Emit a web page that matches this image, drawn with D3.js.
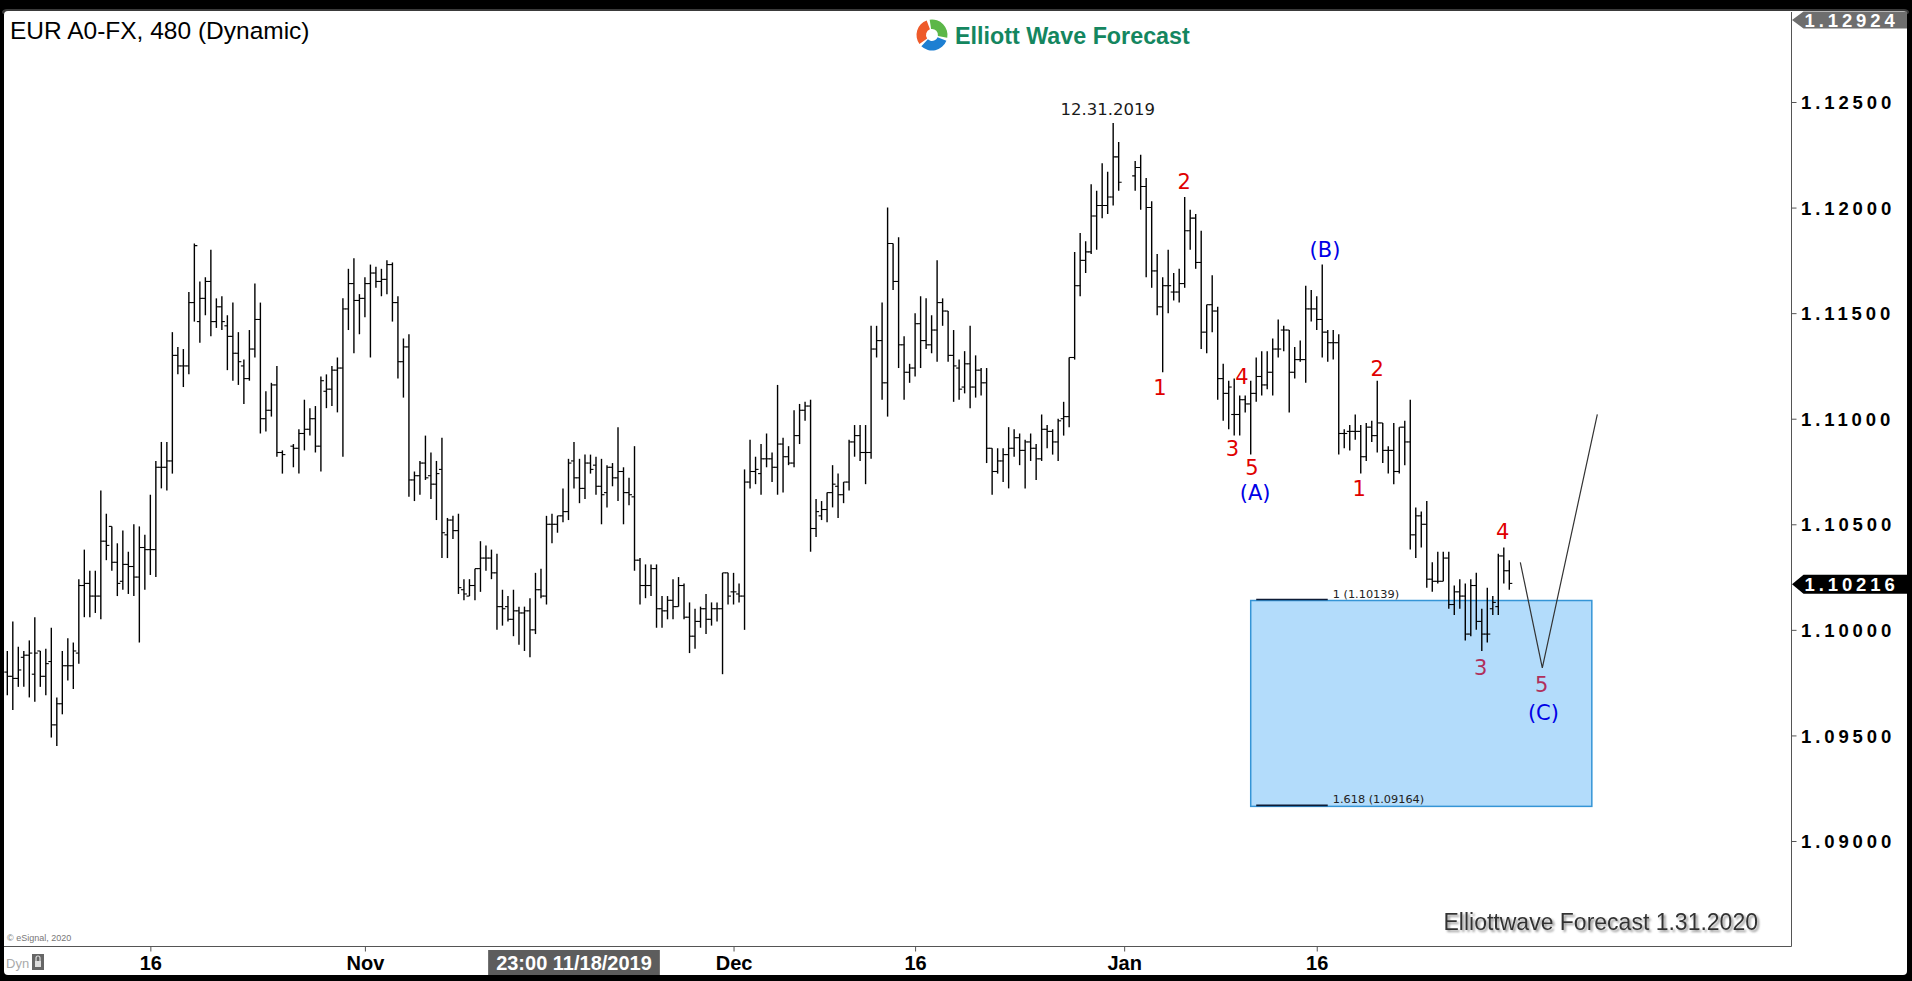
<!DOCTYPE html>
<html><head><meta charset="utf-8">
<script src="https://cdn.jsdelivr.net/npm/d3@7"></script>
<style>
html,body{margin:0;padding:0;background:#000;overflow:hidden}
svg{display:block}
</style></head><body>
<svg id="chart" width="1912" height="981"></svg>
<script>
// ---- data: 8-hour (480 min) EUR/USD bars, one entry per bar slot (null = empty slot) ----
const opens=[
1.0980,1.0978,1.0977,1.0987,1.0988,1.0979,1.0990,1.0978,1.0985,1.0955,
1.0965,1.0983,1.0983,1.0989,1.1021,1.1022,1.1016,1.1016,1.1042,1.1049,
1.1032,1.1023,1.1031,1.1030,1.1025,1.1039,1.1038,1.1038,1.1077,1.1077,
1.1080,1.1130,1.1125,1.1125,1.1155,1.1146,1.1157,1.1165,1.1146,1.1153,
1.1144,1.1139,1.1131,1.1125,1.1119,1.1133,1.1147,1.1100,1.1104,1.1116,
1.1084,null,1.1087,1.1086,1.1093,1.1095,1.1100,1.1087,1.1113,1.1114,
1.1123,1.1124,1.1152,1.1164,1.1156,1.1157,1.1164,1.1169,1.1165,1.1166,
1.1173,1.1155,1.1127,1.1134,1.1071,1.1073,1.1079,1.1073,1.1069,1.1076,
1.1045,1.1052,1.1047,1.1019,1.1016,1.1021,1.1029,1.1034,1.1034,1.1027,
1.1011,1.1011,1.1005,1.1009,1.1008,1.1009,1.1000,1.1019,1.1016,1.1050,
1.1050,1.1054,1.1056,1.1080,1.1072,1.1067,1.1079,1.1078,1.1068,1.1065,
1.1077,1.1072,1.1075,1.1065,1.1063,1.1033,1.1021,1.1021,1.1029,1.1010,
1.1009,1.1014,1.1011,1.1021,1.1006,1.0997,1.1004,1.1010,1.1005,1.1010,
1.1010,1.1027,1.1018,1.1017,1.1016,1.1070,1.1075,1.1074,1.1081,1.1081,
1.1077,1.1088,1.1082,1.1079,1.1092,1.1104,1.1106,1.1048,1.1054,1.1057,
1.1065,1.1068,1.1064,1.1070,1.1089,1.1092,1.1084,1.1084,1.1133,1.1137,
1.1117,1.1183,1.1165,1.1135,1.1122,1.1124,1.1145,1.1137,1.1135,1.1142,
1.1155,1.1151,1.1130,1.1124,1.1115,1.1126,1.1115,1.1123,1.1117,1.1086,
1.1075,1.1080,1.1083,1.1086,1.1091,1.1085,1.1089,1.1086,1.1081,1.1095,
1.1094,1.1089,1.1100,1.1101,1.1129,1.1163,1.1175,1.1179,1.1196,1.1201,
1.1201,1.1205,1.1224,null,null,1.1215,1.1219,1.1210,1.1200,1.1170,
1.1153,1.1163,1.1160,1.1160,1.1164,1.1189,1.1195,1.1174,1.1141,1.1154,
1.1151,1.1119,1.1112,1.1102,1.1102,1.1109,1.1107,1.1112,1.1120,1.1116,
1.1122,1.1133,1.1142,1.1142,1.1122,1.1128,1.1128,1.1152,1.1152,1.1147,
1.1141,1.1136,1.1136,1.1093,1.1094,1.1094,1.1094,1.1082,1.1096,1.1092,
1.1098,1.1085,1.1085,1.1075,1.1096,1.1089,1.1045,1.1054,1.1050,1.1024,
1.1023,1.1023,1.1034,1.1012,1.1018,1.1016,1.0998,1.1021,1.1004,1.0998,
1.1010,1.1011,1.1035,1.1028];
const highs=[
1.0990,1.1004,1.0992,1.0990,1.0995,1.1006,1.0990,1.0991,1.1001,1.0968,
1.0990,1.0996,1.0994,1.1024,1.1038,1.1028,1.1028,1.1066,1.1055,1.1049,
1.1041,1.1047,1.1037,1.1050,1.1049,1.1045,1.1064,1.1080,1.1089,1.1089,
1.1141,1.1134,1.1133,1.1160,1.1183,1.1165,1.1167,1.1180,1.1157,1.1158,
1.1149,1.1155,1.1141,1.1128,1.1142,1.1164,1.1155,1.1113,1.1117,1.1125,
1.1085,null,1.1088,1.1095,1.1109,1.1105,1.1106,1.1120,1.1121,1.1125,
1.1129,1.1157,1.1171,1.1176,1.1159,1.1167,1.1173,1.1172,1.1171,1.1175,
1.1174,1.1158,1.1138,1.1140,1.1075,1.1080,1.1092,1.1084,1.1080,1.1091,
1.1053,1.1054,1.1055,1.1024,1.1024,1.1029,1.1042,1.1040,1.1038,1.1036,
1.1019,1.1016,1.1019,1.1011,1.1011,1.1015,1.1027,1.1029,1.1054,1.1055,
1.1054,1.1067,1.1081,1.1089,1.1081,1.1083,1.1083,1.1082,1.1081,1.1078,
1.1079,1.1096,1.1077,1.1072,1.1087,1.1034,1.1031,1.1031,1.1031,1.1016,
1.1016,1.1024,1.1025,1.1022,1.1013,1.1010,1.1011,1.1017,1.1013,1.1013,
1.1027,1.1027,1.1027,1.1022,1.1076,1.1090,1.1082,1.1088,1.1093,1.1084,
1.1116,1.1091,1.1087,1.1104,1.1107,1.1108,1.1109,1.1062,1.1061,1.1065,
1.1078,1.1074,1.1070,1.1090,1.1097,1.1097,1.1097,1.1144,1.1144,1.1155,
1.1200,1.1183,1.1186,1.1139,1.1126,1.1150,1.1158,1.1157,1.1149,1.1175,
1.1157,1.1151,1.1142,1.1128,1.1132,1.1144,1.1130,1.1124,1.1124,1.1086,
1.1086,1.1086,1.1096,1.1095,1.1093,1.1090,1.1093,1.1088,1.1102,1.1097,
1.1095,1.1100,1.1108,1.1129,1.1179,1.1188,1.1184,1.1211,1.1208,1.1221,
1.1217,1.1240,1.1231,null,null,1.1222,1.1225,1.1214,1.1203,1.1178,
1.1167,1.1180,1.1169,1.1171,1.1205,1.1199,1.1197,1.1189,1.1154,1.1168,
1.1153,1.1126,1.1118,1.1119,1.1111,1.1111,1.1118,1.1129,1.1132,1.1132,
1.1138,1.1147,1.1144,1.1142,1.1134,1.1137,1.1163,1.1161,1.1158,1.1173,
1.1142,1.1142,1.1140,1.1095,1.1097,1.1102,1.1097,1.1098,1.1099,1.1118,
1.1098,1.1087,1.1098,1.1096,1.1099,1.1109,1.1058,1.1056,1.1061,1.1032,
1.1037,1.1037,1.1037,1.1021,1.1024,1.1022,1.1024,1.1027,1.1010,1.1020,
1.1016,1.1036,1.1039,1.1033];
const lows=[
1.0969,1.0962,1.0973,1.0973,1.0968,1.0966,1.0973,1.0969,1.0949,1.0945,
1.0960,1.0976,1.0972,1.0984,1.1006,1.1006,1.1008,1.1005,1.1033,1.1028,
1.1016,1.1019,1.1017,1.1016,1.0994,1.1019,1.1026,1.1025,1.1067,1.1066,
1.1074,1.1121,1.1115,1.1121,1.1146,1.1136,1.1149,1.1139,1.1143,1.1142,
1.1123,1.1118,1.1116,1.1107,1.1118,1.1129,1.1093,1.1094,1.1101,1.1082,
1.1074,null,1.1077,1.1074,1.1085,1.1092,1.1084,1.1075,1.1105,1.1106,
1.1103,1.1082,1.1142,1.1131,1.1140,1.1148,1.1129,1.1162,1.1158,1.1159,
1.1146,1.1119,1.1110,1.1063,1.1061,1.1064,1.1071,1.1062,1.1052,1.1034,
1.1034,1.1043,1.1017,1.1014,1.1016,1.1014,1.1018,1.1028,1.1024,1.1000,
1.1002,1.1004,1.0997,1.0993,1.0990,1.0987,1.0998,1.1015,1.1012,1.1041,
1.1046,1.1051,1.1052,1.1067,1.1060,1.1062,1.1074,1.1064,1.1050,1.1058,
1.1068,1.1061,1.1050,1.1059,1.1028,1.1012,1.1015,1.1016,1.1001,1.1001,
1.1005,1.1005,1.1011,1.1005,1.0989,1.0991,1.1001,1.0998,1.1002,1.1004,
1.0979,1.1012,1.1012,1.1013,1.1000,1.1067,1.1069,1.1064,1.1077,1.1070,
1.1064,1.1065,1.1078,1.1077,1.1088,1.1099,1.1037,1.1044,1.1052,1.1051,
1.1058,1.1053,1.1060,1.1066,1.1082,1.1080,1.1069,1.1081,1.1129,1.1109,
1.1101,1.1161,1.1124,1.1109,1.1117,1.1120,1.1124,1.1133,1.1131,1.1127,
1.1144,1.1127,1.1108,1.1109,1.1112,1.1105,1.1110,1.1111,1.1079,1.1064,
1.1074,1.1070,1.1067,1.1082,1.1078,1.1067,1.1080,1.1071,1.1080,1.1086,
1.1083,1.1080,1.1092,1.1096,1.1128,1.1158,1.1169,1.1178,1.1180,1.1195,
1.1197,1.1201,1.1208,null,null,1.1208,1.1199,1.1167,1.1162,1.1149,
1.1122,1.1150,1.1156,1.1155,1.1162,1.1180,1.1171,1.1133,1.1131,1.1141,
1.1109,1.1099,1.1095,1.1092,1.1092,1.1103,1.1083,1.1108,1.1111,1.1114,
1.1111,1.1129,1.1132,1.1103,1.1119,1.1127,1.1117,1.1146,1.1142,1.1129,
1.1127,1.1128,1.1083,1.1086,1.1085,1.1090,1.1074,1.1080,1.1089,1.1084,
1.1079,1.1074,1.1069,1.1074,1.1078,1.1038,1.1034,1.1039,1.1020,1.1018,
1.1022,1.1023,1.1010,1.1007,1.1010,1.0995,1.0997,1.1000,1.0990,1.0994,
1.1007,1.1007,1.1022,1.1019];
const closes=[
1.0978,1.0977,1.0981,1.0988,1.0989,1.0989,1.0978,1.0984,1.0955,1.0965,
1.0983,1.0983,1.0990,1.1021,1.1022,1.1016,1.1016,1.1042,1.1040,1.1032,
1.1022,1.1031,1.1030,1.1025,1.1039,1.1038,1.1038,1.1077,1.1077,1.1080,
1.1130,1.1125,1.1125,1.1155,1.1182,1.1157,1.1165,1.1146,1.1153,1.1146,
1.1139,1.1131,1.1127,1.1119,1.1133,1.1147,1.1100,1.1104,1.1116,1.1084,
1.1083,null,1.1086,1.1093,1.1095,1.1100,1.1087,1.1118,1.1114,1.1123,
1.1124,1.1152,1.1164,1.1156,1.1157,1.1164,1.1169,1.1165,1.1166,1.1173,
1.1155,1.1127,1.1134,1.1071,1.1073,1.1079,1.1072,1.1069,1.1074,1.1046,
1.1052,1.1047,1.1020,1.1017,1.1021,1.1029,1.1034,1.1034,1.1027,1.1011,
1.1010,1.1005,1.1009,1.1008,1.1009,1.1000,1.1019,1.1016,1.1050,1.1050,
1.1054,1.1056,1.1079,1.1072,1.1067,1.1079,1.1076,1.1068,1.1064,1.1077,
1.1072,1.1075,1.1065,1.1064,1.1033,1.1021,1.1021,1.1029,1.1010,1.1009,
1.1014,1.1011,1.1021,1.1006,1.0997,1.1004,1.1010,1.1005,1.1010,1.1010,
1.1027,1.1016,1.1018,1.1016,1.1070,1.1075,1.1076,1.1081,1.1081,1.1077,
1.1088,1.1082,1.1079,1.1092,1.1104,1.1106,1.1048,1.1056,1.1057,1.1065,
1.1069,1.1064,1.1070,1.1089,1.1092,1.1084,1.1084,1.1133,1.1137,1.1117,
1.1183,1.1165,1.1135,1.1122,1.1124,1.1145,1.1137,1.1135,1.1142,1.1155,
1.1151,1.1130,1.1125,1.1114,1.1126,1.1115,1.1123,1.1117,1.1086,1.1075,
1.1080,1.1083,1.1086,1.1091,1.1085,1.1089,1.1086,1.1081,1.1095,1.1094,
1.1089,1.1099,1.1101,1.1129,1.1163,1.1175,1.1179,1.1196,1.1201,1.1201,
1.1205,1.1224,1.1212,null,null,1.1219,1.1210,1.1200,1.1170,1.1153,
1.1163,1.1163,1.1160,1.1164,1.1189,1.1195,1.1174,1.1141,1.1154,1.1151,
1.1119,1.1112,1.1115,1.1102,1.1109,1.1107,1.1112,1.1120,1.1116,1.1122,
1.1133,1.1133,1.1142,1.1122,1.1128,1.1128,1.1152,1.1152,1.1147,1.1141,
1.1136,1.1136,1.1093,1.1093,1.1094,1.1094,1.1082,1.1096,1.1092,1.1098,
1.1085,1.1085,1.1075,1.1096,1.1089,1.1045,1.1054,1.1050,1.1024,1.1023,
1.1023,1.1034,1.1012,1.1018,1.1016,1.0998,1.1021,1.1004,1.0998,1.0998,
1.1013,1.1035,1.1028,1.1022];

const yTickValues=[1.090,1.095,1.100,1.105,1.110,1.115,1.120,1.125];
const xTickSlots=[26,65,132,165,203,238];
const xTickLabels=["16","Nov","Dec","16","Jan","16"];
const cursorSlot=103, cursorLabel="23:00 11/18/2019";
const topPrice=1.12924, lastPrice=1.10216;

const waveText  =["1","2","3","4","5","(A)","(B)","1","2","3","4","5","(C)"];
const waveSlot  =[209.5,213.9,222.7,224.4,226.2,226.8,239.5,245.7,249.0,267.8,271.8,278.9,279.2];
const wavePrice =[1.11146,1.12123,1.10856,1.11199,1.10767,1.10650,1.11799,1.10670,1.11239,1.09823,1.10465,1.09740,1.09610];
const waveDegree=["minor","minor","minor","minor","minor","inter","inter","minor","minor","sub","minor","sub","inter"];
const peakLabel="12.31.2019", peakSlot=200, peakPrice=1.12438;

const projSlots=[275,279,289];
const projPrices=[1.1032,1.0982,1.1102];
const zoneSlots=[226,288];
const fibRatios=["1","1.618"];
const fibPrices=[1.10139,1.09164];
const fibLineSlots=[227,240];

// ---- layout ----
const svg=d3.select("#chart");
const P={left:4,top:12,right:1791.5,bottom:946.5};
const x=d3.scaleLinear().domain([0,273]).range([7.3,1509.3]);
const y=d3.scaleLinear().domain([1.090,1.125]).range([841,102]);
const AXF="'Liberation Sans', Arial, sans-serif";
const WF="'DejaVu Sans', Verdana, sans-serif";

const defs=svg.append("defs");
defs.append("clipPath").attr("id","pc").append("rect")
  .attr("x",P.left).attr("y",P.top).attr("width",P.right-P.left).attr("height",P.bottom-P.top);
const f=defs.append("filter").attr("id","sh").attr("x","-5%").attr("y","-30%").attr("width","110%").attr("height","160%");
f.append("feDropShadow").attr("dx",2).attr("dy",2).attr("stdDeviation",1.2).attr("flood-color","#8a8a8a").attr("flood-opacity",0.9);

// frame
svg.append("rect").attr("width",1912).attr("height",981).attr("fill","#000");
svg.append("rect").attr("x",2).attr("y",9).attr("width",1907).attr("height",6).attr("rx",5).attr("fill","#3a3a3a");
svg.append("rect").attr("x",4).attr("y",11).attr("width",1903).attr("height",964).attr("rx",4).attr("fill","#fff");

// Fibonacci zone
const gz=svg.append("g").attr("clip-path","url(#pc)");
gz.append("rect")
  .attr("x",x(zoneSlots[0])).attr("y",y(fibPrices[0]))
  .attr("width",x(zoneSlots[1])-x(zoneSlots[0])).attr("height",y(fibPrices[1])-y(fibPrices[0]))
  .attr("fill","#b3dcfb").attr("stroke","#3595d6").attr("stroke-width",1.5);
fibPrices.forEach((p,i)=>{
  gz.append("line").attr("x1",x(fibLineSlots[0])).attr("x2",x(fibLineSlots[1]))
    .attr("y1",y(p)-1).attr("y2",y(p)-1).attr("stroke","#0d1b36").attr("stroke-width",1.6);
  gz.append("text").attr("x",x(fibLineSlots[1])+5).attr("y",y(p)-3)
    .attr("font-family",WF).attr("font-size",11.3).attr("fill","#222")
    .text(`${fibRatios[i]} (${p.toFixed(5)})`);
});

// OHLC bars
const gb=svg.append("g").attr("clip-path","url(#pc)").attr("stroke","#000");
const idx=d3.range(highs.length).filter(i=>highs[i]!=null);
gb.selectAll("line.hl").data(idx).join("line").attr("class","hl")
  .attr("x1",i=>x(i)).attr("x2",i=>x(i)).attr("y1",i=>y(highs[i])).attr("y2",i=>y(lows[i]))
  .attr("stroke-width",1.4);
gb.selectAll("line.op").data(idx).join("line").attr("class","op")
  .attr("x1",i=>x(i)-3).attr("x2",i=>x(i)).attr("y1",i=>y(opens[i])).attr("y2",i=>y(opens[i]))
  .attr("stroke-width",1.1);
gb.selectAll("line.cl").data(idx).join("line").attr("class","cl")
  .attr("x1",i=>x(i)).attr("x2",i=>x(i)+3).attr("y1",i=>y(closes[i])).attr("y2",i=>y(closes[i]))
  .attr("stroke-width",1.1);

// projection
svg.append("path").attr("clip-path","url(#pc)")
  .attr("d",d3.line().x((d,i)=>x(projSlots[i])).y((d,i)=>y(projPrices[i]))(projSlots))
  .attr("fill","none").attr("stroke","#333").attr("stroke-width",1.2);

// wave labels
const waveColor={minor:"#e00000",inter:"#0000e6",sub:"#b0305c"};
svg.append("g").selectAll("text").data(waveText).join("text")
  .attr("x",(d,i)=>x(waveSlot[i])).attr("y",(d,i)=>y(wavePrice[i])).attr("dy","0.35em")
  .attr("text-anchor","middle").attr("font-family",WF).attr("font-size",21)
  .attr("fill",(d,i)=>waveColor[waveDegree[i]]).text(d=>d);
svg.append("text").attr("x",x(peakSlot)).attr("y",y(peakPrice)).attr("text-anchor","middle")
  .attr("font-family",WF).attr("font-size",16.5).attr("fill","#1a1a1a").text(peakLabel);

// y axis
const YLF={family:AXF,size:18.5,ls:"3.9px"};
const yAxis=d3.axisRight(y).tickValues(yTickValues).tickSize(5).tickFormat(d3.format(".5f"));
const gy=svg.append("g").attr("transform",`translate(${P.right},0)`).call(yAxis);
gy.select(".domain").remove();
gy.selectAll(".tick line").attr("stroke","#555");
gy.selectAll(".tick text").attr("x",9.5).attr("dy","0.36em").attr("fill","#000")
  .attr("font-family",YLF.family).attr("font-weight","bold").attr("font-size",YLF.size).attr("letter-spacing",YLF.ls);

// x axis
const xAxis=d3.axisBottom(x).tickValues(xTickSlots).tickFormat((d,i)=>xTickLabels[i]).tickSize(5);
const gx=svg.append("g").attr("transform",`translate(0,${P.bottom})`).call(xAxis);
gx.select(".domain").remove();
gx.selectAll(".tick line").attr("stroke","#555");
gx.selectAll(".tick text").attr("y",23.5).attr("dy",0).attr("fill","#000")
  .attr("font-family",AXF).attr("font-weight","bold").attr("font-size",20);

// borders
svg.append("line").attr("x1",P.right).attr("x2",P.right).attr("y1",P.top).attr("y2",P.bottom).attr("stroke","#555");
svg.append("line").attr("x1",P.left).attr("x2",P.right).attr("y1",P.bottom).attr("y2",P.bottom).attr("stroke","#555");

// cursor date box
const cg=svg.append("g");
const cr=cg.append("rect").attr("y",950).attr("height",25).attr("fill","#5d5d5d");
const ct=cg.append("text").attr("x",x(cursorSlot)).attr("y",970).attr("text-anchor","middle")
  .attr("font-family",AXF).attr("font-weight","bold").attr("font-size",20).attr("fill","#fff").text(cursorLabel);
const cw=ct.node().getComputedTextLength()+16;
cr.attr("x",x(cursorSlot)-cw/2).attr("width",cw);

// price tags
function tag(yc,fill,label,hh){
  svg.append("path").attr("d",`M${P.right+0.5},${yc} L${P.right+12},${yc-hh} L1907,${yc-hh} L1907,${yc+hh} L${P.right+12},${yc+hh} Z`).attr("fill",fill);
  svg.append("text").attr("x",P.right+13).attr("y",yc).attr("dy","0.36em").attr("fill","#fff")
    .attr("font-family",YLF.family).attr("font-weight","bold").attr("font-size",YLF.size).attr("letter-spacing",YLF.ls).text(label);
}
tag(Math.max(y(topPrice),20),"#6e6e6e",topPrice.toFixed(5),8.5);
tag(y(lastPrice),"#000",lastPrice.toFixed(5),9.5);

// title
svg.append("text").attr("x",10).attr("y",39).attr("font-family",AXF).attr("font-size",24.5).attr("fill","#000")
  .text("EUR A0-FX, 480 (Dynamic)");

// logo
const lg=svg.append("g").attr("transform","translate(932,35)");
const arc=d3.arc().innerRadius(6).outerRadius(15.5);
[["#ee5a2a",-2.2,-0.35],["#5cb748",-0.15,1.75],["#1e7fd2",1.95,3.9]].forEach(a=>{
  lg.append("path").attr("d",arc({startAngle:a[1],endAngle:a[2]})).attr("fill",a[0]);
});
svg.append("text").attr("x",955).attr("y",44).attr("font-family",AXF).attr("font-weight","bold")
  .attr("font-size",23.3).attr("fill","#14865f").text("Elliott Wave Forecast");

// footer texts
svg.append("text").attr("x",1758).attr("y",930).attr("text-anchor","end").attr("font-family",AXF)
  .attr("font-size",23).attr("fill","#333").attr("filter","url(#sh)").text("Elliottwave Forecast 1.31.2020");
svg.append("text").attr("x",7).attr("y",941).attr("font-family",AXF).attr("font-size",9).attr("fill","#777").text("© eSignal, 2020");
svg.append("text").attr("x",6).attr("y",968).attr("font-family",AXF).attr("font-size",13).attr("fill","#aaa").text("Dyn");
svg.append("rect").attr("x",32).attr("y",954).attr("width",12).attr("height",16).attr("fill","#666");
svg.append("rect").attr("x",35).attr("y",961).attr("width",6).attr("height",6).attr("fill","#ddd");
svg.append("path").attr("d","M36,961 v-3 a2,2 0 0 1 4,0 v3").attr("fill","none").attr("stroke","#ddd").attr("stroke-width",1.2);
</script>
</body></html>
